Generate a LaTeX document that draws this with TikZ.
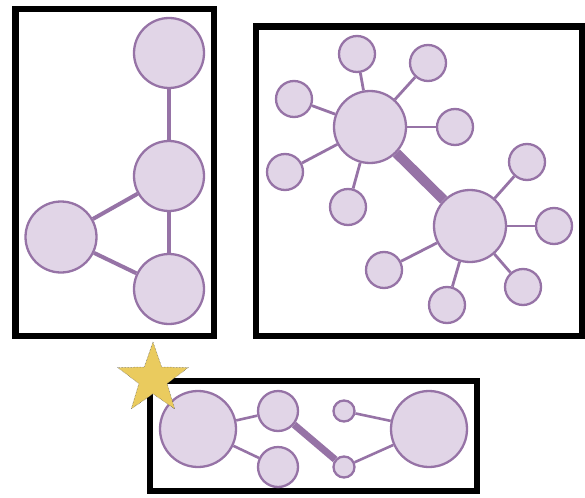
\documentclass[tikz,border=0pt]{standalone}
\usetikzlibrary{backgrounds,shapes.geometric}
\definecolor{nodefill}{HTML}{E1D5E7}
\definecolor{nodeline}{HTML}{9673A6}
\definecolor{stargold}{HTML}{EACB5E}
\tikzset{
  nd/.style={circle, draw=nodeline, fill=nodefill, line width=2.3pt, inner sep=0pt, minimum size=#1},
  edge/.style={draw=nodeline, line width=#1},
  frame/.style={draw=black, line width=6.2pt},
}
\begin{document}
\begin{tikzpicture}[x=1pt,y=-1pt]
\useasboundingbox (0,0) rectangle (585,497);
% frames
\draw[frame] (15.5,9) rectangle (214,336);
\draw[frame] (256,26.5) rectangle (582,336);
\draw[frame] (150,381) rectangle (477,491);
% box 1
\node[nd=70pt] (t1) at (169,53) {};
\node[nd=70pt] (m1) at (169,176) {};
\node[nd=71pt] (l1) at (61,237) {};
\node[nd=70pt] (b1) at (169,289) {};
\begin{scope}[on background layer]
\draw[edge=4pt] (t1) -- (m1);
\draw[edge=4pt] (m1) -- (l1);
\draw[edge=4pt] (m1) -- (b1);
\draw[edge=4pt] (l1) -- (b1);
\end{scope}
% box 2
\node[nd=72pt] (ha) at (370,127) {};
\node[nd=72pt] (hb) at (470,226) {};
\node[nd=36pt] (a1) at (357,54) {};
\node[nd=36pt] (a2) at (428,63) {};
\node[nd=36pt] (a3) at (294,99) {};
\node[nd=36pt] (a4) at (455,127) {};
\node[nd=36pt] (a5) at (285,172) {};
\node[nd=36pt] (a6) at (348,207) {};
\node[nd=36pt] (b2) at (527,162) {};
\node[nd=36pt] (b3) at (554,226) {};
\node[nd=36pt] (b4) at (384,270) {};
\node[nd=36pt] (b5) at (523,287) {};
\node[nd=36pt] (b6) at (447,305) {};
\begin{scope}[on background layer]
\draw[edge=10pt] (ha) -- (hb);
\foreach \s in {a1,a2,a3,a4,a5,a6} \draw[edge=2.8pt] (ha) -- (\s);
\foreach \s in {b2,b3,b4,b5,b6} \draw[edge=2.8pt] (hb) -- (\s);
\end{scope}
% box 3
\node[nd=76pt] (cl) at (198,429) {};
\node[nd=40pt] (su) at (278,411) {};
\node[nd=40pt] (sl) at (278,467) {};
\node[nd=21pt] (tu) at (344,411) {};
\node[nd=21pt] (tl) at (344,467) {};
\node[nd=76pt] (cr) at (429,429) {};
\begin{scope}[on background layer]
\draw[edge=2.6pt] (cl) -- (su);
\draw[edge=2.6pt] (cl) -- (sl);
\draw[edge=7pt] (su) -- (tl);
\draw[edge=2.6pt] (tu) -- (cr);
\draw[edge=2.6pt] (tl) -- (cr);
\end{scope}
% star
\node[star, star points=5, star point ratio=2.5, minimum size=74pt, inner sep=0pt,
  fill=stargold, draw=black!65, densely dotted, line width=0.5pt] (star) at (153,379) {};
\end{tikzpicture}
\end{document}
